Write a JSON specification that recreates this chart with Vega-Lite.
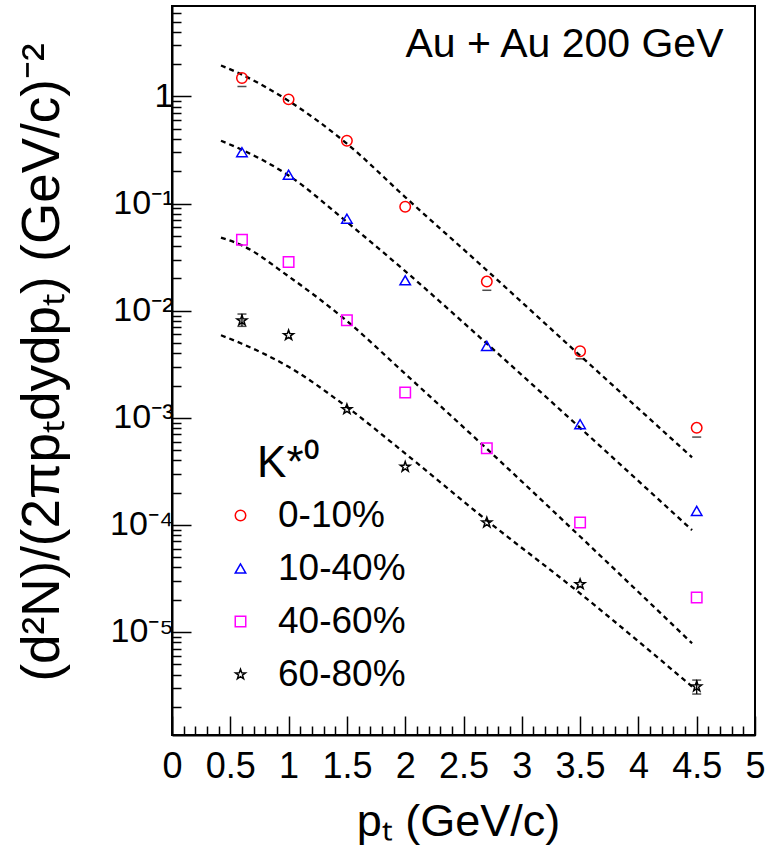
{
  "$schema": "https://vega.github.io/schema/vega-lite/v6.json",
  "autosize": {"type": "none"},
  "padding": {"left": 172, "top": 6, "right": 19, "bottom": 118},
  "width": 583,
  "height": 729,
  "background": "white",
  "config": {
    "view": {"stroke": "black", "strokeWidth": 2},
    "font": "Liberation Sans",
    "axis": {
      "grid": false,
      "labelFont": "Liberation Sans",
      "labelColor": "black",
      "titleFont": "Liberation Sans",
      "titleColor": "black",
      "titleFontWeight": "normal",
      "domainColor": "black",
      "domainWidth": 2,
      "tickColor": "black",
      "tickWidth": 1.5,
      "labelOverlap": false,
      "labelFlush": false
    },
    "legend": {
      "orient": "none",
      "legendX": 50,
      "legendY": 491,
      "padding": 0,
      "labelFont": "Liberation Sans",
      "labelFontSize": 37,
      "labelColor": "black",
      "symbolSize": 110,
      "symbolStrokeWidth": 1.5,
      "rowPadding": 15,
      "labelOffset": 19,
      "labelLimit": 300
    }
  },
  "datasets": {
    "pts": [
      {"pT": 0.6, "val": 1.49, "series": "0-10%"},
      {"pT": 1.0, "val": 0.94, "series": "0-10%"},
      {"pT": 1.5, "val": 0.386, "series": "0-10%"},
      {"pT": 2.0, "val": 0.0935, "series": "0-10%"},
      {"pT": 2.7, "val": 0.0187, "series": "0-10%"},
      {"pT": 3.5, "val": 0.00418, "series": "0-10%"},
      {"pT": 4.5, "val": 0.000805, "series": "0-10%"},
      {"pT": 0.6, "val": 0.302, "series": "10-40%"},
      {"pT": 1.0, "val": 0.186, "series": "10-40%"},
      {"pT": 1.5, "val": 0.0723, "series": "10-40%"},
      {"pT": 2.0, "val": 0.0192, "series": "10-40%"},
      {"pT": 2.7, "val": 0.00469, "series": "10-40%"},
      {"pT": 3.5, "val": 0.000871, "series": "10-40%"},
      {"pT": 4.5, "val": 0.000135, "series": "10-40%"},
      {"pT": 0.6, "val": 0.046, "series": "40-60%"},
      {"pT": 1.0, "val": 0.0285, "series": "40-60%"},
      {"pT": 1.5, "val": 0.00813, "series": "40-60%"},
      {"pT": 2.0, "val": 0.00172, "series": "40-60%"},
      {"pT": 2.7, "val": 0.00052, "series": "40-60%"},
      {"pT": 3.5, "val": 0.000105, "series": "40-60%"},
      {"pT": 4.5, "val": 0.000021, "series": "40-60%"},
      {"pT": 0.6, "val": 0.0081, "series": "60-80%"},
      {"pT": 1.0, "val": 0.0059, "series": "60-80%"},
      {"pT": 1.5, "val": 0.0012, "series": "60-80%"},
      {"pT": 2.0, "val": 0.000348, "series": "60-80%"},
      {"pT": 2.7, "val": 0.000105, "series": "60-80%"},
      {"pT": 3.5, "val": 0.0000279, "series": "60-80%"},
      {"pT": 4.5, "val": 0.00000309, "series": "60-80%"}
    ],
    "curves": [
      {"pT": 0.42, "val": 1.95, "series": "0-10%"},
      {"pT": 0.6, "val": 1.6, "series": "0-10%"},
      {"pT": 1.0, "val": 0.91, "series": "0-10%"},
      {"pT": 1.5, "val": 0.363, "series": "0-10%"},
      {"pT": 2.0, "val": 0.115, "series": "0-10%"},
      {"pT": 2.7, "val": 0.0238, "series": "0-10%"},
      {"pT": 3.5, "val": 0.00381, "series": "0-10%"},
      {"pT": 4.46, "val": 0.000427, "series": "0-10%"},
      {"pT": 0.42, "val": 0.386, "series": "10-40%"},
      {"pT": 0.6, "val": 0.318, "series": "10-40%"},
      {"pT": 1.0, "val": 0.183, "series": "10-40%"},
      {"pT": 1.5, "val": 0.0673, "series": "10-40%"},
      {"pT": 2.0, "val": 0.0234, "series": "10-40%"},
      {"pT": 2.7, "val": 0.00493, "series": "10-40%"},
      {"pT": 3.5, "val": 0.000805, "series": "10-40%"},
      {"pT": 4.46, "val": 0.0000893, "series": "10-40%"},
      {"pT": 0.42, "val": 0.0481, "series": "40-60%"},
      {"pT": 0.6, "val": 0.0407, "series": "40-60%"},
      {"pT": 1.0, "val": 0.0209, "series": "40-60%"},
      {"pT": 1.5, "val": 0.008, "series": "40-60%"},
      {"pT": 2.0, "val": 0.00257, "series": "40-60%"},
      {"pT": 2.7, "val": 0.000513, "series": "40-60%"},
      {"pT": 3.5, "val": 0.0000778, "series": "40-60%"},
      {"pT": 4.46, "val": 0.00000783, "series": "40-60%"},
      {"pT": 0.42, "val": 0.00589, "series": "60-80%"},
      {"pT": 0.6, "val": 0.00491, "series": "60-80%"},
      {"pT": 1.0, "val": 0.00299, "series": "60-80%"},
      {"pT": 1.5, "val": 0.00126, "series": "60-80%"},
      {"pT": 2.0, "val": 0.000464, "series": "60-80%"},
      {"pT": 2.7, "val": 0.00011, "series": "60-80%"},
      {"pT": 3.5, "val": 0.0000229, "series": "60-80%"},
      {"pT": 4.46, "val": 0.00000309, "series": "60-80%"}
    ],
    "caps": [
      {"pT": 0.6, "val": 1.24},
      {"pT": 2.7, "val": 0.0155},
      {"pT": 3.5, "val": 0.00355},
      {"pT": 4.5, "val": 0.00066},
      {"pT": 0.6, "val": 0.0093},
      {"pT": 0.6, "val": 0.00714},
      {"pT": 4.5, "val": 0.00000355},
      {"pT": 4.5, "val": 0.00000263}
    ],
    "bars": [
      {"pT": 0.6, "lo": 0.00714, "hi": 0.0093},
      {"pT": 4.5, "lo": 0.00000263, "hi": 0.00000355}
    ],
    "title": [
      {"pT": 4.73, "val": 2.34, "text": "Au + Au 200 GeV"}
    ],
    "ktitle": [
      {"pT": 0.73, "val": 0.00028, "text": "K*⁰"}
    ]
  },
  "encoding": {
    "x": {
      "field": "pT",
      "type": "quantitative",
      "scale": {"domain": [0, 5], "nice": false, "zero": false},
      "axis": {
        "title": "pₜ  (GeV/c)",
        "titleFontSize": 45,
        "titleX": 286,
        "titleY": 100,
        "titleAlign": "center",
        "titleBaseline": "alphabetic",
        "labelFontSize": 36,
        "labelPadding": 33,
        "values": [0,0.1,0.2,0.3,0.4,0.5,0.6,0.7,0.8,0.9,1,1.1,1.2,1.3,1.4,1.5,1.6,1.7,1.8,1.9,2,2.1,2.2,2.3,2.4,2.5,2.6,2.7,2.8,2.9,3,3.1,3.2,3.3,3.4,3.5,3.6,3.7,3.8,3.9,4,4.1,4.2,4.3,4.4,4.5,4.6,4.7,4.8,4.9,5],
        "labelExpr": "abs(datum.value*2-round(datum.value*2))<1e-6 ? format(datum.value, '~g') : ''",
        "tickSize": {"condition": {"test": "abs(datum.value*2-round(datum.value*2))<1e-6", "value": -19}, "value": -9}
      }
    },
    "y": {
      "field": "val",
      "type": "quantitative",
      "scale": {"type": "log", "domain": [0.00000109, 7], "nice": false},
      "axis": {
        "title": "(d²N)/(2πpₜdydpₜ) (GeV/c)⁻²",
        "titleFontSize": 53,
        "titleAngle": 270,
        "titleX": -114,
        "titleY": 356,
        "titleAlign": "center",
        "titleBaseline": "alphabetic",
        "labelFontSize": 34,
        "labelPadding": 18,
        "values": [0.000002,0.000003,0.000004,0.000005,0.000006,0.000007,0.000008,0.000009,0.00001,0.00002,0.00003,0.00004,0.00005,0.00006,0.00007,0.00008,0.00009,0.0001,0.0002,0.0003,0.0004,0.0005,0.0006,0.0007,0.0008,0.0009,0.001,0.002,0.003,0.004,0.005,0.006,0.007,0.008,0.009,0.01,0.02,0.03,0.04,0.05,0.06,0.07,0.08,0.09,0.1,0.2,0.3,0.4,0.5,0.6,0.7,0.8,0.9,1,2,3,4,5,6],
        "labelExpr": "abs(log(datum.value)/LN10-round(log(datum.value)/LN10))<1e-6 ? ['1','10⁻¹','10⁻²','10⁻³','10⁻⁴','10⁻⁵','10⁻⁶'][-round(log(datum.value)/LN10)] : ''",
        "tickSize": {"condition": {"test": "abs(log(datum.value)/LN10-round(log(datum.value)/LN10))<1e-6", "value": -19}, "value": -9}
      }
    }
  },
  "layer": [
    {
      "data": {"name": "curves"},
      "mark": {"type": "line", "color": "black", "strokeDash": [5, 4], "strokeWidth": 2.3, "interpolate": "monotone"},
      "encoding": {"detail": {"field": "series"}}
    },
    {
      "data": {"name": "bars"},
      "mark": {"type": "rule", "color": "black", "strokeWidth": 1.3},
      "encoding": {"y": {"field": "lo", "type": "quantitative"}, "y2": {"field": "hi"}}
    },
    {
      "data": {"name": "caps"},
      "mark": {"type": "tick", "orient": "horizontal", "color": "black", "size": 9, "thickness": 1.5},
      "encoding": {}
    },
    {
      "data": {"name": "pts"},
      "mark": {"type": "point", "filled": false, "strokeWidth": 1.5, "size": 110, "opacity": 1},
      "encoding": {
        "color": {
          "field": "series",
          "type": "nominal",
          "scale": {"domain": ["0-10%", "10-40%", "40-60%", "60-80%"], "range": ["#ff0000", "#0000ff", "#ff00ff", "#000000"]},
          "legend": {"title": null}
        },
        "shape": {
          "field": "series",
          "type": "nominal",
          "scale": {"domain": ["0-10%", "10-40%", "40-60%", "60-80%"], "range": ["circle", "triangle-up", "square", "M0,-1L0.235,-0.324L0.951,-0.309L0.38,0.124L0.588,0.809L0,0.4L-0.588,0.809L-0.38,0.124L-0.951,-0.309L-0.235,-0.324Z"]},
          "legend": {"title": null}
        }
      }
    },
    {
      "data": {"name": "title"},
      "mark": {"type": "text", "color": "black", "font": "Liberation Sans", "baseline": "alphabetic", "align": "right", "fontSize": 41},
      "encoding": {"text": {"field": "text"}}
    },
    {
      "data": {"name": "ktitle"},
      "mark": {"type": "text", "color": "black", "font": "Liberation Sans", "baseline": "alphabetic", "align": "left", "fontSize": 44},
      "encoding": {"text": {"field": "text"}}
    }
  ]
}
